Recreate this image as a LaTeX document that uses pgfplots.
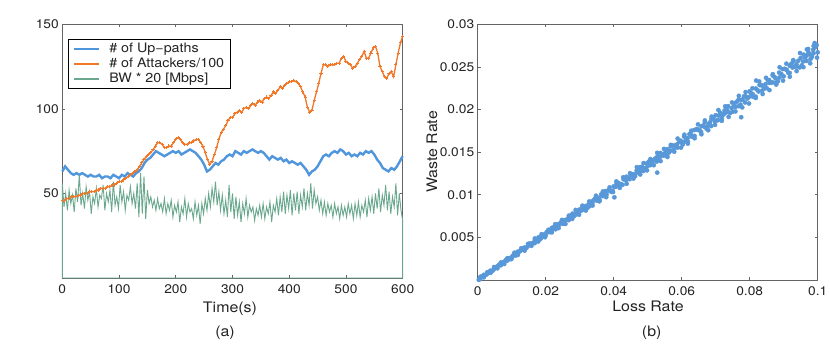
\documentclass[border=0pt]{standalone}
\usepackage{fontspec}
\setmainfont{TeX Gyre Heros}[FakeStretch=1.1]
\usepackage{pgfplots}
\pgfplotsset{compat=1.18}
\definecolor{upblue}{RGB}{80,150,220}
\definecolor{attorange}{RGB}{240,120,40}
\definecolor{bwgreen}{RGB}{105,168,140}
\definecolor{dotblue}{RGB}{88,152,216}
\definecolor{axisgray}{RGB}{100,100,100}
\definecolor{txt}{RGB}{35,35,35}

\pgfplotsset{
  matlab/.style={
    scale only axis,
    axis line style={axisgray, line width=0.6pt},
    tick style={axisgray, line width=0.6pt},
    tick align=inside,
    tick pos=both,
    major tick length=3pt,
    tick label style={font=\fontsize{12.5}{14}\selectfont, text=txt},
    /pgf/number format/assume math mode=true,
    xticklabel style={yshift=-3pt},
  }
}

\begin{document}
\begin{tikzpicture}[x=1pt,y=1pt]
\path[use as bounding box] (0,0) rectangle (830,345);

% (a) time series
\begin{axis}[matlab,
  at={(62.3pt,67pt)}, anchor=south west,
  width=340.4pt, height=253.7pt,
  xmin=0, xmax=600, ymin=0, ymax=150,
  xtick={0,100,...,600}, ytick={50,100,150},
  clip=false,
  legend style={at={(0.0167,0.942)}, anchor=north west,
    draw=black, line width=0.6pt, fill=white,
    inner xsep=3pt, inner ysep=2.5pt,
    font=\fontsize{13}{15}\selectfont, text=txt,
    cells={anchor=west}, row sep=1pt, column sep=0pt,
    nodes={inner xsep=3pt, inner ysep=1.5pt}},
  legend image code/.code={\path[draw=none, fill=none] (0pt,-3pt) rectangle (35pt,3pt);
    \draw[#1, line width=2pt] (3pt,0pt) -- (28pt,0pt);},
]
\addplot[upblue, line width=2.4pt] coordinates {
(0,63)(5,66)(10,64)(15,62)(20,61)(25,62)(30,61)(35,62)(40,61)(45,60)(50,61)(55,60)(60,60)(65,61)(70,59)(75,60)
(80,60)(85,59)(90,61)(95,60)(100,59)(105,61)(110,60)(115,62)(120,61)(125,60)(130,62)(135,63)(140,65)(145,68)
(150,70)(155,71)(160,73)(165,75)(170,74)(175,73)(180,72)(185,73)(190,74)(195,75)(200,74)(205,75)(210,73)(215,74)
(220,75)(225,76)(230,75)(235,74)(240,72)(245,70)(250,67)(255,63)(260,64)(265,66)(270,68)(275,67)(280,69)(285,70)
(290,72)(295,73)(300,72)(305,75)(310,74)(315,73)(320,75)(325,74)(330,75)(335,76)(340,75)(345,74)(350,75)(355,74)
(360,72)(365,70)(370,72)(375,71)(380,70)(385,71)(390,69)(395,70)(400,68)(405,69)(410,68)(415,67)(420,68)(425,66)
(430,64)(435,61)(440,63)(445,64)(450,66)(455,69)(460,72)(465,73)(470,72)(475,74)(480,75)(485,74)(490,76)(495,75)
(500,73)(505,74)(510,72)(515,73)(520,72)(525,74)(530,73)(535,75)(540,74)(545,75)(550,73)(555,70)(560,68)(565,65)
(570,64)(575,63)(580,65)(585,64)(590,66)(595,69)(600,72)};
\addlegendentry{\# of Up−paths}
\addplot[attorange, line width=1.3pt, mark=+, mark size=1.6pt, mark options={solid, line width=1pt}] coordinates {
(0,46)(4,46)(8,47)(12,47)(16,48)(20,48)(24,48)(28,49)(32,49)(36,50)(40,50)(44,50)(48,51)(52,51)(56,51)(60,52)
(64,52)(68,53)(72,53)(76,53)(80,54)(84,54)(88,55)(92,55)(96,56)(100,57)(104,57)(108,58)(112,59)(116,60)(120,61)
(124,62)(128,63)(132,64)(136,66)(140,68)(144,70)(148,72)(152,73)(156,74)(160,76)(164,78)(168,80)(172,80)(176,79)
(180,77)(184,77)(188,78)(192,78)(196,80)(200,82)(204,83)(208,82)(212,80)(216,79)(220,79)(224,80)(228,80)(232,81)
(236,82)(240,82)(244,80)(248,78)(252,74)(256,70)(260,67)(264,69)(268,73)(272,77)(276,82)(280,86)(284,88)(288,90)
(292,93)(296,95)(300,95)(304,97)(308,98)(312,99)(316,98)(320,100)(324,101)(328,100)(332,102)(336,103)(340,102)
(344,104)(348,105)(352,104)(356,106)(360,107)(364,106)(368,108)(372,110)(376,109)(380,111)(384,113)(388,112)
(392,114)(396,115)(400,116)(404,116)(408,117)(412,116)(416,115)(420,113)(424,110)(428,107)(432,101)(436,98)
(440,99)(444,105)(448,110)(452,115)(456,121)(460,126)(464,126)(468,125)(472,126)(476,126)(480,126)(484,127)
(488,127)(492,130)(496,131)(500,128)(504,127)(508,126)(512,124)(516,125)(520,127)(524,129)(528,131)(532,134)
(536,130)(540,130)(544,133)(548,136)(552,137)(556,133)(560,125)(564,122)(568,119)(572,118)(576,121)(580,122)
(584,119)(588,126)(592,133)(596,139)(600,143)};
\addlegendentry{\# of Attackers/100}
\addplot[bwgreen, line width=0.9pt] coordinates {
(0,0)(0,56)(3,42)(6,50)(9,40)(12,52)(15,44)(18,49)(21,39)(24,53)(27,45)(30,61)(33,43)(36,50)(39,41)(42,54)
(45,46)(48,51)(51,38)(54,48)(57,44)(60,53)(63,42)(66,49)(69,47)(72,55)(75,40)(78,50)(81,45)(84,52)(87,39)
(90,57)(93,43)(96,48)(99,41)(102,55)(105,45)(108,51)(111,40)(114,49)(117,46)(120,54)(123,44)(126,50)(129,41)
(132,56)(135,36)(138,62)(141,38)(144,60)(147,35)(150,52)(153,44)(156,48)(159,42)(162,46)(165,40)(168,47)
(171,41)(174,44)(177,39)(180,47)(183,38)(186,44)(189,40)(192,46)(195,36)(198,43)(201,39)(204,45)(207,33)
(210,42)(213,38)(216,47)(219,36)(222,44)(225,39)(228,41)(231,35)(234,45)(237,37)(240,43)(243,32)(246,44)
(249,38)(252,47)(255,40)(258,50)(261,42)(264,53)(267,45)(270,57)(273,43)(276,51)(279,40)(282,49)(285,38)
(288,46)(291,36)(294,55)(297,39)(300,50)(303,35)(306,48)(309,37)(312,45)(315,33)(318,44)(321,38)(324,47)
(327,36)(330,43)(333,39)(336,42)(339,34)(342,41)(345,37)(348,43)(351,36)(354,44)(357,35)(360,42)(363,38)
(366,45)(369,33)(372,43)(375,39)(378,47)(381,37)(384,48)(387,39)(390,51)(393,38)(396,49)(399,41)(402,52)
(405,37)(408,50)(411,40)(414,51)(417,38)(420,49)(423,42)(426,53)(429,40)(432,50)(435,43)(438,56)(441,41)
(444,52)(447,44)(450,48)(453,40)(456,46)(459,38)(462,45)(465,37)(468,44)(471,39)(474,43)(477,36)(480,44)
(483,38)(486,42)(489,35)(492,43)(495,37)(498,42)(501,36)(504,44)(507,38)(510,43)(513,35)(516,44)(519,37)
(522,45)(525,36)(528,43)(531,39)(534,46)(537,36)(540,47)(543,40)(546,48)(549,38)(552,50)(555,41)(558,53)
(561,39)(564,49)(567,43)(570,55)(573,40)(576,51)(579,38)(582,48)(585,42)(588,56)(591,37)(594,50)(597,40)
(600,34)(600,0)(0,0)};
\addlegendentry{BW * 20 [Mbps]}
\end{axis}

% (b) waste vs loss, values in units of 1e-3
\begin{axis}[matlab,
  at={(477.7pt,65pt)}, anchor=south west,
  width=340pt, height=255.7pt,
  xmin=0, xmax=100, ymin=0, ymax=30,
  xtick={0,20,...,100}, xticklabels={0,0.02,0.04,0.06,0.08,0.1},
  ytick={5,10,...,30}, yticklabels={0.005,0.01,0.015,0.02,0.025,0.03},
]
\addplot[dotblue, only marks, mark=*, mark size=2.1pt, mark options={draw=dotblue, fill=dotblue}] coordinates {
(0.7,0.10)(0.85,0.29)(1.75,0.46)(1.8,0.61)(2.6,0.65)(2.9,0.78)(3.65,0.86)(3.75,1.10)(4.68,1.22)(5,1.47)
(5.7,1.45)(5.85,1.63)(6.75,1.85)(6.8,1.73)(7.6,2.13)(7.9,2.11)(8.65,2.49)(8.75,2.29)(9.68,2.61)(10,2.54)
(10.7,3.00)(10.85,2.87)(11.75,3.32)(11.8,3.08)(12.6,3.46)(12.9,3.52)(13.65,3.55)(13.75,3.81)(14.68,3.94)(15,4.24)
(15.7,4.15)(15.85,4.28)(16.75,4.32)(16.8,4.67)(17.6,4.68)(17.9,5.01)(18.65,4.90)(18.75,5.13)(19.68,5.36)(20,5.23)
(20.7,5.71)(20.85,5.61)(21.75,6.10)(21.8,5.79)(22.6,6.10)(22.9,5.95)(23.65,6.55)(23.75,6.33)(24.68,6.87)(25,6.59)
(25.7,7.02)(25.85,7.03)(26.75,7.02)(26.8,7.38)(27.6,7.42)(27.9,7.79)(28.65,7.62)(28.75,7.76)(29.68,7.74)(30,8.28)
(30.7,8.20)(30.85,8.57)(31.75,8.38)(31.8,8.68)(32.6,8.86)(32.9,8.66)(33.65,9.25)(33.75,9.08)(34.68,9.66)(35,9.32)
(35.7,9.64)(35.85,9.38)(36.75,10.12)(36.8,9.84)(37.6,10.43)(37.9,10.02)(38.65,10.55)(38.75,10.53)(39.68,10.46)(40,10.98)
(40.7,10.95)(40.85,11.36)(41.75,11.12)(41.8,11.29)(42.6,11.16)(42.9,11.81)(43.65,11.68)(43.75,12.12)(44.68,11.83)(45,12.27)
(45.7,12.42)(45.85,12.10)(46.75,12.82)(46.8,12.60)(47.6,13.22)(47.9,12.77)(48.65,13.14)(48.75,12.79)(49.68,13.66)(50,13.37)
(50.7,14.03)(50.85,13.48)(51.75,14.10)(51.8,14.08)(52.6,13.89)(52.9,14.50)(53.65,14.45)(53.75,14.91)(54.68,14.58)(55,14.85)
(55.7,14.63)(55.85,15.35)(56.75,15.18)(56.8,15.71)(57.6,15.27)(57.9,15.77)(58.65,15.93)(58.75,15.53)(59.68,16.35)(60,16.15)
(60.7,16.83)(60.85,16.24)(61.75,16.67)(61.8,16.25)(62.6,17.20)(62.9,16.83)(63.65,17.59)(63.75,16.91)(64.68,17.61)(65,17.65)
(65.7,17.38)(65.85,18.04)(66.75,17.97)(66.8,18.51)(67.6,18.04)(67.9,18.33)(68.65,18.06)(68.75,18.88)(69.68,18.65)(70,19.33)
(70.7,18.76)(70.85,19.29)(71.75,19.48)(71.8,19.00)(72.6,19.88)(72.9,19.62)(73.65,20.40)(73.75,19.69)(74.68,20.16)(75,19.74)
(75.7,20.78)(75.85,20.31)(76.75,21.18)(76.8,20.39)(77.6,21.13)(77.9,21.15)(78.65,20.83)(78.75,21.56)(79.68,21.45)(80,22.14)
(80.7,21.55)(80.85,21.83)(81.75,21.52)(81.8,22.46)(82.6,22.12)(82.9,22.87)(83.65,22.22)(83.75,22.80)(84.68,22.99)(85,22.51)
(85.7,23.46)(85.85,23.12)(86.75,24.00)(86.8,23.18)(87.6,23.65)(87.9,23.15)(88.65,24.33)(88.75,23.76)(89.68,24.74)(90,23.90)
(90.7,24.69)(90.85,24.66)(91.75,24.30)(91.8,25.13)(92.6,24.93)(92.9,25.69)(93.65,25.02)(93.75,25.31)(94.68,24.94)(95,26.06)
(95.7,25.63)(95.85,26.44)(96.75,25.70)(96.8,26.35)(97.6,26.49)(97.9,25.94)(98.65,27.00)(98.75,26.59)(99.68,27.56)(100,26.71)
(0.3,0.02)(1.3,0.44)(2.3,0.59)(3.3,0.95)(4.3,1.04)(5.3,1.45)(6.3,1.79)(7.3,1.89)(8.3,2.36)(9.3,2.47)
(10.3,2.85)(11.3,2.90)(12.3,3.34)(13.3,3.71)(14.3,3.76)(15.3,4.28)(16.3,4.36)(17.3,4.76)(18.3,4.76)(19.3,5.23)
(20.3,5.63)(21.3,5.63)(22.3,6.20)(23.3,6.24)(24.3,6.67)(25.3,6.61)(26.3,7.13)(27.3,7.54)(28.3,7.49)(29.3,8.12)
(30.3,8.12)(31.3,8.57)(32.3,8.47)(33.3,9.02)(34.3,9.46)(35.3,9.36)(36.3,10.04)(37.3,10.00)(38.3,10.48)(39.3,10.33)
(40.3,10.92)(41.3,11.37)(42.3,11.23)(43.3,11.96)(44.3,11.88)(45.3,12.39)(46.3,12.18)(47.3,12.81)(48.3,13.29)(49.3,13.10)
(50.3,13.88)(51.3,13.76)(52.3,14.29)(53.3,14.04)(54.3,14.70)(55.3,15.20)(56.3,14.97)(57.3,15.79)(58.3,15.65)(59.3,16.20)
(60.3,15.89)(61.3,16.60)(62.3,17.12)(63.3,16.84)(64.3,17.71)(65.3,17.53)(66.3,18.11)(67.3,17.75)(68.3,18.49)(69.3,19.03)
(70.3,18.71)(71.3,19.63)(72.3,19.41)(73.3,20.01)(74.3,19.61)(75.3,20.39)(76.3,20.95)(77.3,20.58)(78.3,21.55)(79.3,21.29)
(80.3,21.92)(81.3,21.46)(82.3,22.28)(83.3,22.86)(84.3,22.45)(85.3,23.47)(86.3,23.17)(87.3,23.83)(88.3,23.32)(89.3,24.18)
(90.3,24.78)(91.3,24.32)(92.3,25.39)(93.3,25.06)(94.3,25.73)(95.3,25.18)(96.3,26.07)(97.3,26.69)(98.3,26.18)(99.3,27.31)
(0.8,0.38)(1.8,0.31)(2.8,0.91)(3.8,0.86)(4.8,1.52)(5.8,1.37)(6.8,2.05)(7.8,1.88)(8.8,2.57)(9.8,2.44)
(10.8,3.20)(11.8,2.94)(12.8,3.72)(13.8,3.45)(14.8,4.23)(15.8,4.01)(16.8,4.87)(17.8,4.51)(18.8,5.38)(19.8,5.02)
(20.8,5.89)(21.8,5.59)(22.8,6.55)(23.8,6.09)(24.8,7.05)(25.8,6.58)(26.8,7.55)(27.8,7.17)(28.8,8.22)(29.8,7.66)
(30.8,8.72)(31.8,8.15)(32.8,9.21)(33.8,8.74)(34.8,9.89)(35.8,9.23)(36.8,10.38)(37.8,9.72)(38.8,10.87)(39.8,10.32)
(40.8,11.57)(41.8,10.81)(42.8,12.05)(43.8,11.29)(44.8,12.53)(45.8,11.90)(46.8,13.24)(47.8,12.38)(48.8,13.72)(49.8,12.86)
(50.8,14.19)(51.8,13.47)(52.8,14.92)(53.8,13.95)(54.8,15.38)(55.8,14.43)(56.8,15.85)(57.8,15.05)(58.8,16.59)(59.8,15.53)
(60.8,17.05)(61.8,16.00)(62.8,17.51)(63.8,16.63)(64.8,18.26)(65.8,17.10)(66.8,18.72)(67.8,17.57)(68.8,19.17)(69.8,18.20)
(70.8,19.94)(71.8,18.67)(72.8,20.38)(73.8,19.14)(74.8,20.83)(75.8,19.78)(76.8,21.61)(77.8,20.25)(78.8,22.05)(79.8,20.71)
(80.8,22.49)(81.8,21.36)(82.8,23.29)(83.8,21.82)(84.8,23.72)(85.8,22.28)(86.8,24.15)(87.8,22.93)(88.8,24.96)(89.8,23.39)
(90.8,25.38)(91.8,23.85)(92.8,25.80)(93.8,24.51)(94.8,26.63)(95.8,24.97)(96.8,27.05)(97.8,25.42)(98.8,27.46)(99.8,26.09)
(40.2,9.7)(52.8,12.6)(77.5,19.1)(81.9,23.4)(99.1,27.8)(97.2,27.1)};
\end{axis}

\begin{scope}[every node/.style={font=\fontsize{14.5}{16}\selectfont, text=txt}]
\node[anchor=base] at (230,32.3) {Time(s)};
\node[anchor=base] at (648,33.3) {Loss Rate};
\node[rotate=90] at (432,193) {Waste Rate};
\node[anchor=base] at (225,8.3) {(a)};
\node[anchor=base] at (651.7,8.3) {(b)};
\end{scope}
\end{tikzpicture}
\end{document}
